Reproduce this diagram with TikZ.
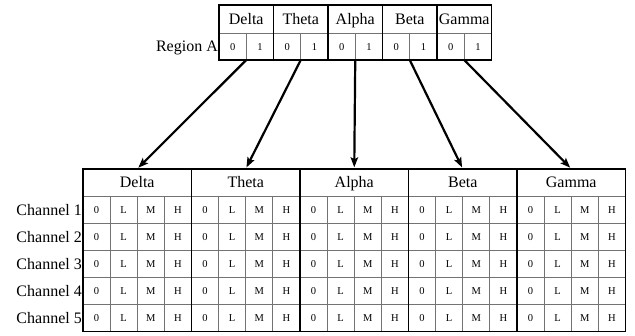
\documentclass[tikz,border=0pt]{standalone}
\usepackage{fontspec}
\setmainfont{Liberation Serif}
\usetikzlibrary{arrows.meta}
\begin{document}
\begin{tikzpicture}[x=1pt,y=-1pt,
  gridline/.style={draw=black!55, line width=0.8pt},
  frame/.style={draw=black, line width=1.5pt},
  big/.style={font=\fontsize{16}{18}\selectfont, inner sep=0pt, text height=10.8pt, text depth=0pt},
  small/.style={font=\fontsize{10.5}{12}\selectfont, inner sep=0pt, text height=7pt, text depth=0pt},
  link/.style={draw, line width=2.2pt, shorten >=1.5pt, -{Stealth[length=10pt,width=7.5pt,inset=2pt]}}]
\useasboundingbox (0,0) rectangle (635,335);

% ---- upper table: bands with binary columns ----
\def\tx{219}\def\tw{54.5}
\foreach \name [count=\i from 0] in {Delta,Theta,Alpha,Beta,Gamma}{
  \node[big, minimum width=\tw pt, minimum height=28pt] (t\i) at ({\tx+\tw*\i+\tw/2},19) {\name};
  \node[small] (t\i z) at ({\tx+\tw*\i+\tw/4},46.5) {0};
  \node[small] (t\i o) at ({\tx+\tw*\i+3*\tw/4},46.5) {1};
  \coordinate (s\i) at ({\tx+\tw*\i+\tw/2},60);
  \draw[gridline] ({\tx+\tw*\i+\tw/2},33) -- (s\i);
}
\draw[gridline] (\tx,33) -- ({\tx+5*\tw},33);
\foreach \i in {1,...,4}
  \draw[frame, line width=1.2pt] ({\tx+\tw*\i},5) -- ({\tx+\tw*\i},60);
\draw[frame] (\tx,5) rectangle ({\tx+5*\tw},60);
\node[big, anchor=east] (regA) at (218,46.5) {Region A};

% ---- lower table: bands with level columns per channel ----
\def\bx{83}\def\gw{108.5}\def\rh{27.1}\def\by{169}
\foreach \name [count=\i from 0] in {Delta,Theta,Alpha,Beta,Gamma}{
  \node[big, minimum width=\gw pt, minimum height=\rh pt] (b\i) at ({\bx+\gw*\i+\gw/2},{\by+\rh/2}) {\name};
  \foreach \lv [count=\k from 0] in {0,L,M,H}{
    \foreach \j in {1,...,5}
      \node[small] (c\i-\k-\j) at ({\bx+\gw*\i+\gw/8+\gw/4*\k},{\by+\rh*\j+\rh/2}) {\lv};
  }
  \foreach \k in {1,2,3}
    \draw[gridline] ({\bx+\gw*\i+\gw/4*\k},{\by+\rh}) -- ({\bx+\gw*\i+\gw/4*\k},{\by+6*\rh});
}
\foreach \j in {1,...,5}{
  \draw[gridline] (\bx,{\by+\rh*\j}) -- ({\bx+5*\gw},{\by+\rh*\j});
  \node[big, anchor=east] (ch\j) at (82,{\by+\rh*\j+\rh/2}) {Channel \j};
}
\foreach \i in {1,...,4}
  \draw[frame, line width=1.2pt] ({\bx+\gw*\i},\by) -- ({\bx+\gw*\i},{\by+6*\rh});
\draw[frame] (\bx,\by) rectangle ({\bx+5*\gw},{\by+6*\rh});

% ---- arrows from each upper band to its lower band ----
\foreach \i in {0,...,4}
  \draw[link] (s\i) -- (b\i.north);
\end{tikzpicture}
\end{document}
